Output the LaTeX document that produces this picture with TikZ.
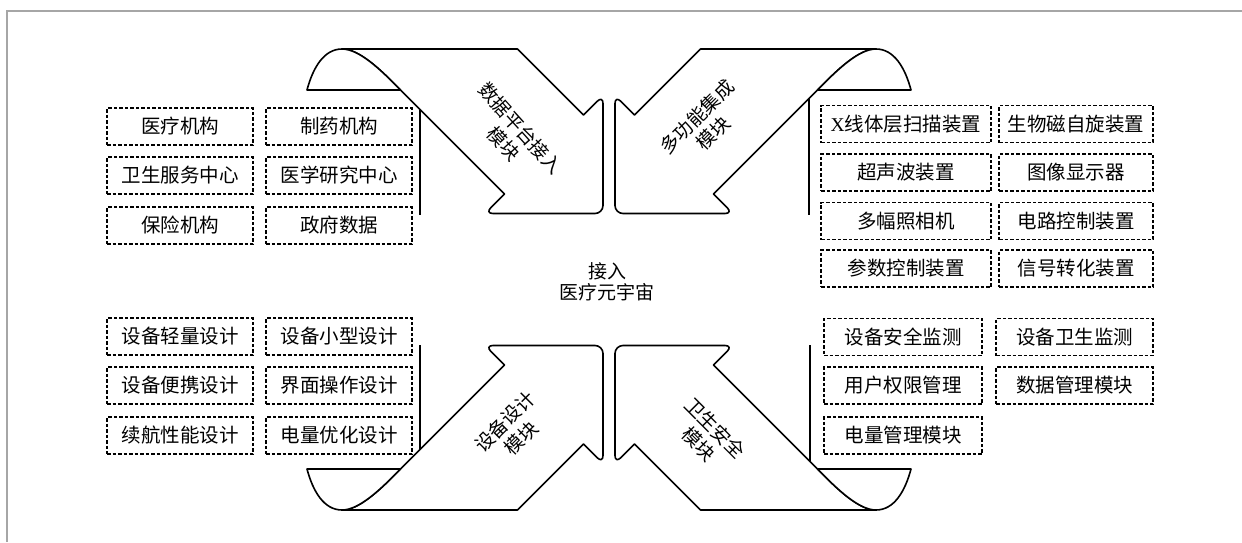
\documentclass[tikz,border=0pt]{standalone}
\usepackage{fontspec}
\setmainfont{Liberation Serif}
\newfontfamily\cjk{Noto Sans CJK SC}
\begin{document}
\begin{tikzpicture}[x=1pt,y=-1pt,
		item/.style={draw,dash pattern=on 3.5pt off 2pt,line width=1.5pt,minimum height=37pt,inner sep=0pt,font=\cjk\fontsize{19.5}{19.5}\selectfont},
		shaft/.style={draw,fill=white,line width=1.6pt,line join=round},
		modlabel/.style={align=center,font=\cjk\fontsize{19}{23}\selectfont}]
		\useasboundingbox (0,0) rectangle (1242,542);
		\draw [gray!70,line width=2pt] (7,542) -- (7,11) -- (1242,11);
		
		\foreach \sx/\sy/\lx in {1/1/-189, -1/1/-200, 1/-1/-189, -1/-1/-201} {
			\begin{scope}[shift={(609,279.5)},xscale=\sx,yscale=\sy]
			\draw [shaft] (-267,-230.5) -- (-91.5,-230.5) -- (-25.5,-164.5) [rounded corners=8pt] -- (-6,-184) -- (-6,-66) -- (-124,-66) [sharp corners] -- (-104.5,-85.5) -- (-208.5,-189.5) .. controls (-229,-210.5) and (-250,-230.5) .. cycle;
			\draw [shaft] (-302,-189.5) .. controls (-296,-212) and (-285,-230.5) .. (-267,-230.5) .. controls (-250,-230.5) and (-229,-210.5) .. (-208.5,-189.5) -- cycle;
			\draw [line width=1.6pt] (\lx,{\lx+19}) -- (\lx,-65);
			\end{scope}
		}
		
		\node [modlabel,rotate=-48] (mdata) at (512,136) {数据平台接入\\模块};
		\node [modlabel,rotate=45] (mfunc) at (705,125) {多功能集成\\模块};
		\node [modlabel,rotate=45] (mdesign) at (513,430) {设备设计\\模块};
		\node [modlabel,rotate=-45] (msafe) at (707,436) {卫生安全\\模块};
		\node [align=center,font=\cjk\fontsize{19}{20.5}\selectfont] (meta) at (607,282) {接入\\医疗元宇宙};
		
		\node [item,minimum width=146pt] (hosp) at (180,126.5) {医疗机构};
		\node [item,minimum width=146pt] (health) at (180,175.5) {卫生服务中心};
		\node [item,minimum width=146pt] (insur) at (180,225.5) {保险机构};
		\node [item,minimum width=146pt] (pharma) at (339,126.5) {制药机构};
		\node [item,minimum width=146pt] (research) at (339,175.5) {医学研究中心};
		\node [item,minimum width=146pt] (gov) at (339,225.5) {政府数据};
		
		\node [item,minimum width=170pt] (xray) at (906,124) {{\rmfamily X}线体层扫描装置};
		\node [item,minimum width=170pt] (sono) at (906,172.5) {超声波装置};
		\node [item,minimum width=170pt] (cam) at (906,221) {多幅照相机};
		\node [item,minimum width=170pt] (param) at (906,268.5) {参数控制装置};
		\node [item,minimum width=154pt] (mri) at (1076,124) {生物磁自旋装置};
		\node [item,minimum width=154pt] (disp) at (1076,172.5) {图像显示器};
		\node [item,minimum width=154pt] (circ) at (1076,221) {电路控制装置};
		\node [item,minimum width=154pt] (signal) at (1076,268.5) {信号转化装置};
		
		\node [item,minimum width=146pt] (light) at (180,336.5) {设备轻量设计};
		\node [item,minimum width=146pt] (port) at (180,385.5) {设备便携设计};
		\node [item,minimum width=146pt] (endur) at (180,435.5) {续航性能设计};
		\node [item,minimum width=146pt] (small) at (339,336.5) {设备小型设计};
		\node [item,minimum width=146pt] (ui) at (339,385.5) {界面操作设计};
		\node [item,minimum width=146pt] (power) at (339,435.5) {电量优化设计};
		
		\node [item,minimum width=158pt] (safe) at (903,337) {设备安全监测};
		\node [item,minimum width=158pt] (user) at (903,385.5) {用户权限管理};
		\node [item,minimum width=158pt] (batt) at (903,435.5) {电量管理模块};
		\node [item,minimum width=157pt] (hyg) at (1074.5,337) {设备卫生监测};
		\node [item,minimum width=157pt] (data) at (1074.5,385.5) {数据管理模块};
\end{tikzpicture}
\end{document}
